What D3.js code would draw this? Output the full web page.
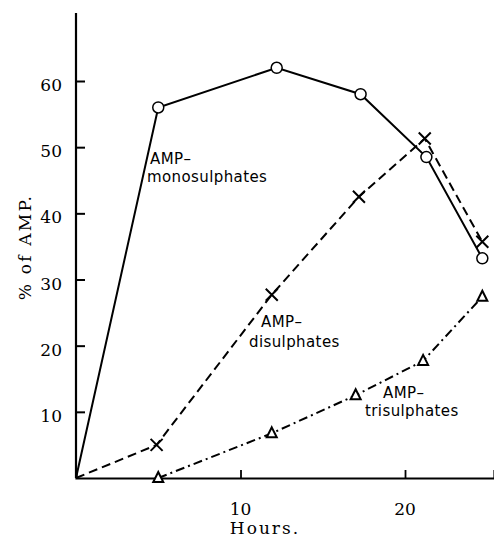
<!DOCTYPE html>
<html><head><meta charset="utf-8">
<script src="https://cdn.jsdelivr.net/npm/d3@7/dist/d3.min.js"></script>
<style>body{margin:0;background:#fff}svg{display:block}</style>
</head><body>
<script>
// Data
const monoHours = [0, 5, 12.2, 17.3, 21.3, 24.7];
const monoValues = [0, 56, 62, 58, 48.5, 33.2];
const diHours = [0, 4.9, 11.9, 17.2, 21.2, 24.7];
const diValues = [0, 5, 27.7, 42.5, 51.3, 35.7];
const triHours = [5, 11.9, 17.0, 21.1, 24.7];
const triValues = [0, 6.75, 12.5, 17.7, 27.4];
const xTicks = [10, 20];
const yTicks = [10, 20, 30, 40, 50, 60];
const labels = [
  {lines:["AMP\u2013","monosulphates"], x:[150,147], y:[164,182]},
  {lines:["AMP\u2013","disulphates"], x:[261,249], y:[327,347]},
  {lines:["AMP\u2013","trisulphates"], x:[383,365], y:[398,416]}
];

const W = 494, H = 550;
const svg = d3.select("body").append("svg").attr("width", W).attr("height", H);
const x = d3.scaleLinear().domain([0, 25.41]).range([76, 494]);
const y = d3.scaleLinear().domain([0, 60]).range([478, 81]);

// axes
const gx = svg.append("g").attr("transform", `translate(0,${y(0)})`)
  .call(d3.axisTop(x).tickValues(xTicks).tickSize(8).tickFormat(""));
gx.select(".domain").attr("stroke-width", 2.2);
gx.selectAll(".tick line").attr("stroke-width", 1.8);
const gy = svg.append("g").attr("transform", `translate(${x(0)},0)`)
  .call(d3.axisRight(y).tickValues(yTicks).tickSize(9).tickFormat(""));
gy.select(".domain").attr("d", `M0,${y(0)}V13`).attr("stroke-width", 2.2);
gy.selectAll(".tick line").attr("stroke-width", 2);

// tick labels
svg.selectAll(".xl").data(xTicks).join("text")
  .attr("x", d => x(d)).attr("y", 515).attr("text-anchor", "middle")
  .attr("font-family", "DejaVu Serif").attr("font-size", 17).text(d => d);
svg.selectAll(".yl").data(yTicks).join("text")
  .attr("x", 62).attr("y", d => y(d) + 10).attr("text-anchor", "end")
  .attr("font-family", "DejaVu Serif").attr("font-size", 17).text(d => d);

svg.append("text").attr("x", 265).attr("y", 534).attr("text-anchor", "middle")
  .attr("font-family", "DejaVu Serif").attr("font-size", 17).attr("letter-spacing", 2)
  .text("Hours.");
svg.append("text").attr("transform", "translate(31,247) rotate(-90)").attr("text-anchor", "middle")
  .attr("font-family", "DejaVu Serif").attr("font-size", 17).attr("letter-spacing", 2.2)
  .text("% of AMP.");

const line = d3.line().x(d => x(d[0])).y(d => y(d[1]));
const mono = monoHours.map((h, i) => [h, monoValues[i]]);
const di = diHours.map((h, i) => [h, diValues[i]]);
const tri = triHours.map((h, i) => [h, triValues[i]]);

svg.append("path").datum(mono).attr("d", line).attr("fill", "none")
  .attr("stroke", "#000").attr("stroke-width", 2);
svg.append("path").datum(di).attr("d", line).attr("fill", "none")
  .attr("stroke", "#000").attr("stroke-width", 2).attr("stroke-dasharray", "9,5");
svg.append("path").datum(tri).attr("d", line).attr("fill", "none")
  .attr("stroke", "#000").attr("stroke-width", 2).attr("stroke-dasharray", "9,4,2,4");

// markers
svg.selectAll(".c").data(mono.slice(1)).join("circle")
  .attr("cx", d => x(d[0])).attr("cy", d => y(d[1])).attr("r", 5.5)
  .attr("fill", "#fff").attr("stroke", "#000").attr("stroke-width", 1.5);
svg.selectAll(".x").data(di.slice(1)).join("path")
  .attr("transform", d => `translate(${x(d[0])},${y(d[1])})`)
  .attr("d", "M-6,-6L6,6M-6,6L6,-6").attr("stroke", "#000").attr("stroke-width", 2);
svg.selectAll(".t").data(tri).join("path")
  .attr("transform", d => `translate(${x(d[0])},${y(d[1])})`)
  .attr("d", "M0,-6L5,4L-5,4Z").attr("fill", "#fff").attr("stroke", "#000").attr("stroke-width", 2);

// labels
labels.forEach(l => {
  l.lines.forEach((t, i) => {
    svg.append("text").attr("x", l.x[i]).attr("y", l.y[i])
      .attr("font-family", "DejaVu Sans").attr("font-size", 15).attr("letter-spacing", 0.4).text(t);
  });
});
</script>
</body></html>
